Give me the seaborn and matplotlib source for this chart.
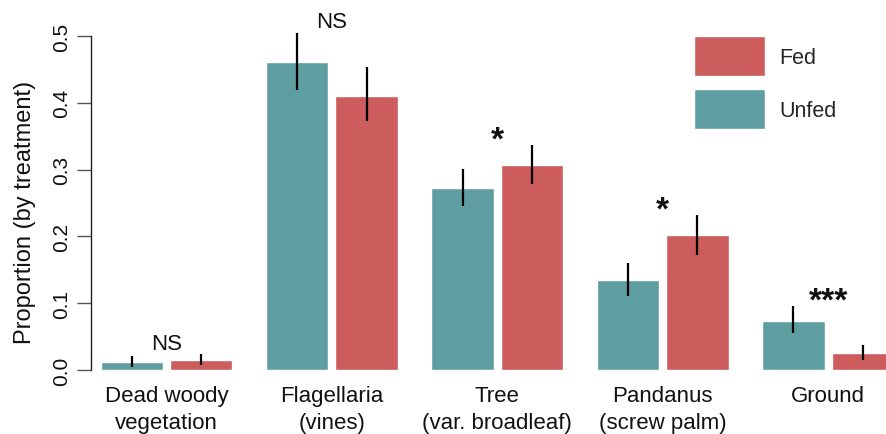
import matplotlib
matplotlib.use("Agg")
import matplotlib.pyplot as plt
import seaborn as sns
import pandas as pd
import numpy as np

categories = ["Dead woody\nvegetation", "Flagellaria\n(vines)", "Tree\n(var. broadleaf)",
              "Pandanus\n(screw palm)", "Ground"]
treatments = ["Unfed", "Fed"]
unfed_mean = [0.012, 0.461, 0.272, 0.135, 0.073]
unfed_lo = [0.005, 0.419, 0.245, 0.111, 0.055]
unfed_hi = [0.021, 0.504, 0.301, 0.160, 0.096]
fed_mean = [0.015, 0.410, 0.307, 0.202, 0.025]
fed_lo = [0.008, 0.373, 0.278, 0.172, 0.015]
fed_hi = [0.024, 0.454, 0.337, 0.232, 0.037]
sig_labels = ["NS", "NS", "*", "*", "***"]
sig_y = [0.032, 0.5135, 0.331, 0.226, 0.091]

colors = {"Unfed": "#5F9EA0", "Fed": "#CD5C5C"}

sns.set_theme(style="white")
plt.rcParams["font.family"] = ["Liberation Sans", "DejaVu Sans"]

df = pd.DataFrame({
    "category": categories * 2,
    "treatment": ["Unfed"] * len(categories) + ["Fed"] * len(categories),
    "value": unfed_mean + fed_mean,
})

fig = plt.figure(figsize=(8.87, 4.35), dpi=100)
ax = fig.add_axes([91 / 887, (435 - 371) / 435, (887 - 91) / 887, (371 - 10) / 435])

sns.barplot(data=df, x="category", y="value", hue="treatment", hue_order=treatments,
            order=categories, palette=colors, width=0.84, gap=0.1, errorbar=None,
            saturation=1, ax=ax)

# error bars
for cont, lo, hi in zip(ax.containers, [unfed_lo, fed_lo], [unfed_hi, fed_hi]):
    xs = [b.get_x() + b.get_width() / 2 for b in cont]
    ax.vlines(xs, lo, hi, color="black", lw=1.6, zorder=5)

# significance labels
for i, (lab, yv) in enumerate(zip(sig_labels, sig_y)):
    if lab == "NS":
        ax.text(i, yv, lab, ha="center", va="baseline", fontsize=16, color="#111111")
    else:
        ax.text(i, yv, lab, ha="center", va="baseline", fontsize=24,
                fontweight="bold", color="#111111")

ax.set_xlim(-(166.5 - 91) / 165.4, (887 - 166.5) / 165.4)
ax.set_ylim(0, 0.5 + 27 * 0.5 / 334)
ax.set_yticks([0, 0.1, 0.2, 0.3, 0.4, 0.5])
ax.set_yticklabels(["0.0", "0.1", "0.2", "0.3", "0.4", "0.5"])
for s in ["top", "right", "bottom"]:
    ax.spines[s].set_visible(False)
ax.spines["left"].set_bounds(0, 0.5)
ax.spines["left"].set_color("#222222")
ax.spines["left"].set_linewidth(1)
ax.tick_params(axis="y", left=True, length=10, width=1, color="#555555",
               labelsize=15, pad=4, labelrotation=90)
for t in ax.get_yticklabels():
    t.set_va("center")
    t.set_color("#111111")
ax.tick_params(axis="x", bottom=False, length=0, labelsize=16, pad=11)
for t in ax.get_xticklabels():
    t.set_linespacing(1.35)
    t.set_color("#111111")

ax.set_xlabel("")
ax.set_ylabel("Proportion (by treatment)", fontsize=17, color="#111111")
ax.yaxis.set_label_coords((36 - 91) / 796, (371 - 212) / 361)

handles, labels = ax.get_legend_handles_labels()
hmap = dict(zip(labels, handles))
ax.legend([hmap["Fed"], hmap["Unfed"]], ["Fed", "Unfed"], loc="upper left",
          bbox_to_anchor=(694 / 887, 1 - 37 / 435), bbox_transform=fig.transFigure,
          frameon=False, borderpad=0, borderaxespad=0, handlelength=3.3,
          handleheight=2.485, labelspacing=0.6, handletextpad=0.65, fontsize=15.5)

fig.savefig("out.png", dpi=100)
